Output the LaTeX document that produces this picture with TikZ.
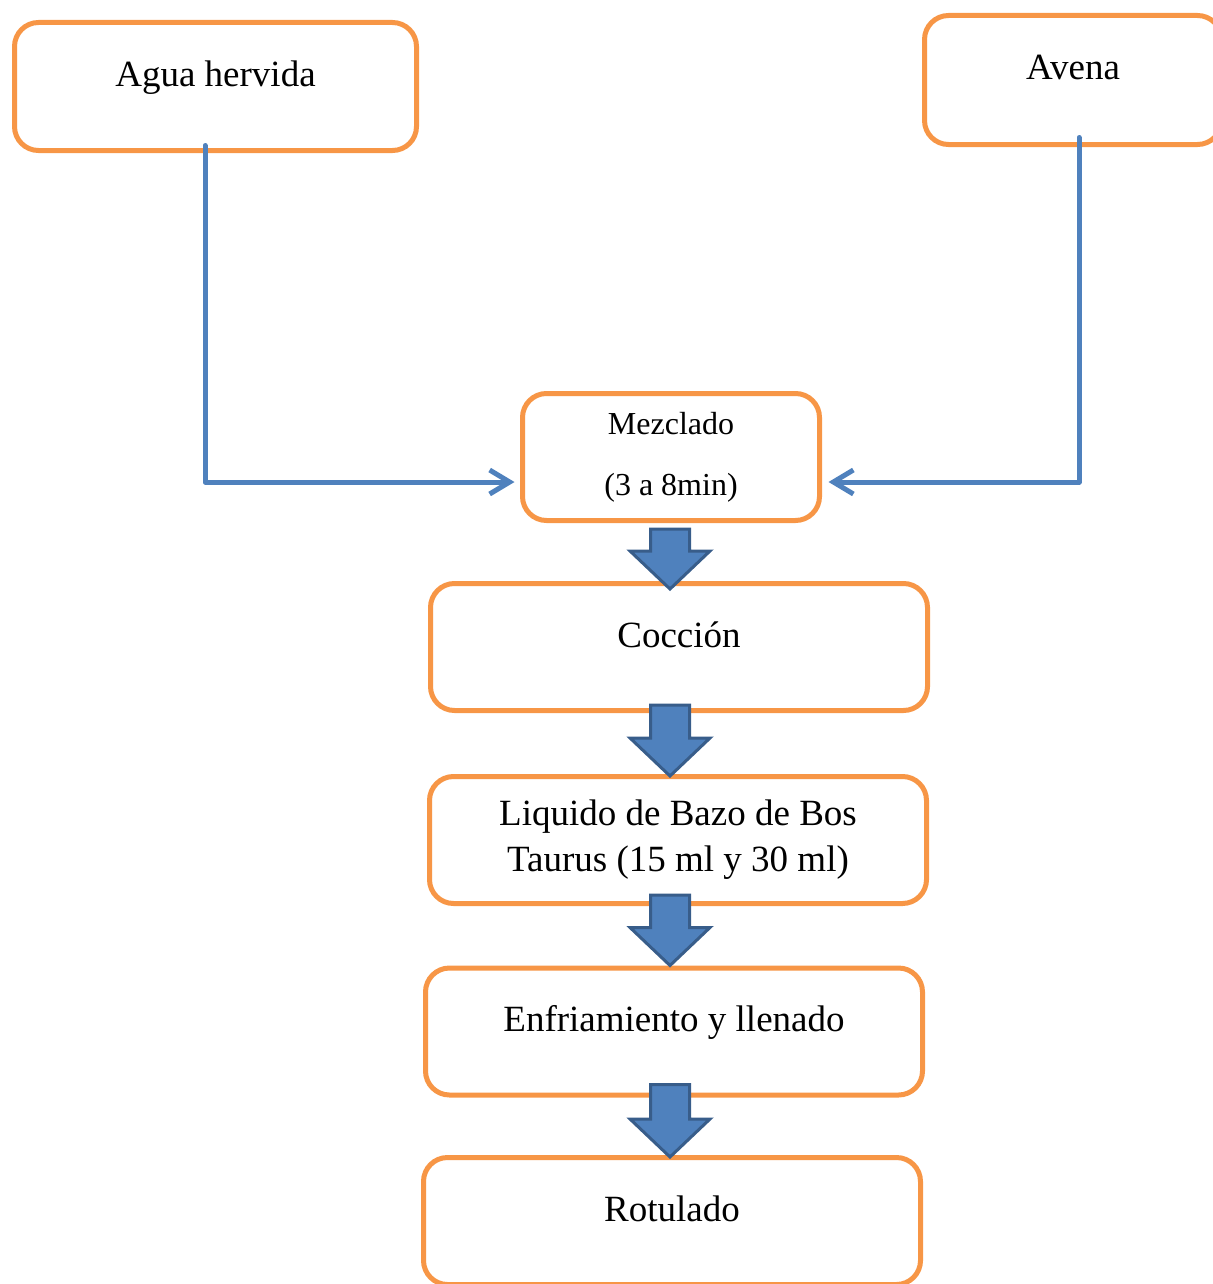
\documentclass[tikz,border=0pt]{standalone}
\usepackage{fontspec}
\setmainfont{Liberation Serif}
\usetikzlibrary{arrows.meta, calc}

\definecolor{naranja}{HTML}{F79646}
\definecolor{azul}{HTML}{4F81BD}
\definecolor{azuloscuro}{HTML}{385D8A}

\tikzset{
    caja/.style={draw=naranja, line width=2.5pt, rounded corners=12pt, fill=white,
        align=center, inner sep=0pt, font=\fontsize{18.5}{23}\selectfont},
    una/.style={text height=0.7em, text depth=0.7em},
    ancha/.style={minimum width=248.5pt, minimum height=63.5pt},
    conector/.style={draw=azul, line width=2.5pt, line cap=round, line join=round,
        -{Straight Barb[length=10pt, width=12pt]}},
    bloque/.style={fill=azul, draw=azuloscuro, line width=1.5pt}
}

\begin{document}
\begin{tikzpicture}[x=0.5pt, y=-0.5pt]

    \useasboundingbox (0,0) rectangle (1213,1284);
    \clip (0,0) rectangle (1213,1284);

    % Ingredientes
    \node[caja, una, minimum width=201pt, minimum height=64pt] (agua) at (215.5,86.5) {Agua hervida};
    \node[caja, una, minimum width=148.5pt, minimum height=64.5pt] (avena) at (1073,80) {Avena};

    % Etapas del proceso
    \node[caja, minimum width=148.5pt, minimum height=63.5pt,
        font=\fontsize{16}{30.5}\selectfont] (mezcla) at (671,457) {Mezclado\\(3 a 8min)};
    \node[caja, una, ancha] (coccion) at (679,647) {Cocción};
    \node[caja, ancha] (liquido) at (678,840) {Liquido de Bazo de Bos\\Taurus (15 ml y 30 ml)};
    \node[caja, una, ancha] (enfria) at (674,1031.5) {Enfriamiento y llenado};
    \node[caja, una, ancha] (rotulo) at (672,1221) {Rotulado};

    % Entradas al mezclado
    \draw[conector] ([xshift=-5.25pt, yshift=3.75pt]agua.south)
        |- ([xshift=-2.75pt, yshift=-12.5pt]mezcla.west);
    \draw[conector] ([xshift=3pt, yshift=4.75pt]avena.south)
        |- ([xshift=3.25pt, yshift=-12.5pt]mezcla.east);

    % Flechas de bloque
    \coordinate (eje) at (670,0);
    \foreach \de/\a/\arriba/\abajo in {mezcla/coccion/-3pt/-4pt, coccion/liquido/4pt/-1pt,
            liquido/enfria/5.5pt/0pt, enfria/rotulo/6.5pt/-1pt} {
        \draw[bloque] let \p1=([yshift=\arriba]eje |- \de.south),
                          \p2=([yshift=\abajo]eje |- \a.north) in
            (\x1-9.75pt,\y1) -- (\x1+9.75pt,\y1) -- (\x1+9.75pt,\y2+19pt)
            -- (\x1+20pt,\y2+19pt) -- (\x2,\y2) -- (\x1-20pt,\y2+19pt)
            -- (\x1-9.75pt,\y2+19pt) -- cycle;
    }

\end{tikzpicture}
\end{document}
